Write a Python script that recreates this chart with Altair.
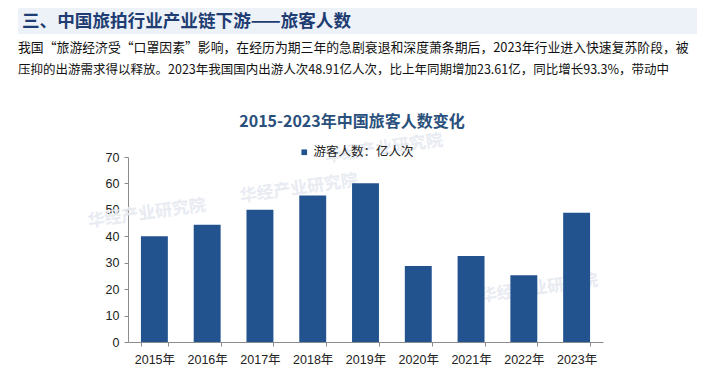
import altair as alt
import pandas as pd

years = ["2015年", "2016年", "2017年", "2018年", "2019年", "2020年", "2021年", "2022年", "2023年"]
values = [40.0, 44.4, 50.0, 55.4, 60.1, 28.8, 32.5, 25.3, 48.91]
series_name = "游客人数：亿人次"
y_ticks = [0, 10, 20, 30, 40, 50, 60, 70]

header = "三、中国旅拍行业产业链下游——旅客人数"
para1 = "我国“旅游经济受“口罩因素”影响，在经历为期三年的急剧衰退和深度萧条期后，2023年行业进入快速复苏阶段，被"
para2 = "压抑的出游需求得以释放。2023年我国国内出游人次48.91亿人次，比上年同期增加23.61亿，同比增长93.3%，带动中"
chart_title = "2015-2023年中国旅客人数变化"
watermark = "华经产业研究院"

CJK = "Noto Sans CJK SC"
LAT = "Liberation Sans, Noto Sans CJK SC"
BAR = "#22538F"

df = pd.DataFrame({"year": years, "value": values, "series": [series_name] * len(years)})

W, H = 475, 185

def txt(s, x, y, size, color, weight="normal", align="left", font=CJK, angle=0, opacity=1.0):
    return alt.Chart(pd.DataFrame({"t": [s]})).mark_text(
        align=align, baseline="middle", fontSize=size, font=font, color=color,
        fontWeight=weight, angle=angle, opacity=opacity
    ).encode(x=alt.value(x), y=alt.value(y), text="t:N")

band = alt.Chart(pd.DataFrame({"t": [header]})).mark_rect(color="#EDF2F9").encode(
    x=alt.value(-110), x2=alt.value(569), y=alt.value(-152), y2=alt.value(-123)
)

marks = []
# watermarks (faint)
for (wx, wy) in [(325 - 128, 0), (240 - 128, 40), (480 - 128, 140), (-40, 65)]:
    marks.append(txt(watermark, wx, wy, 17, "#E6EAF1", weight="bold", angle=352, opacity=0.9))

bars = alt.Chart(df).mark_bar().encode(
    x=alt.X("year:N", sort=None, title=None,
            scale=alt.Scale(paddingInner=0.49, paddingOuter=0.245),
            axis=alt.Axis(labelAngle=0, tickBand="extent", tickSize=4, labelPadding=7,
                          labelFont=LAT, labelFontSize=12.5, labelColor="#222222",
                          domainColor="#8C8C8C", tickColor="#8C8C8C")),
    y=alt.Y("value:Q", title=None,
            scale=alt.Scale(domain=[0, 70], nice=False),
            axis=alt.Axis(values=y_ticks, grid=False, tickSize=4, labelPadding=5,
                          labelFont=LAT, labelFontSize=12.5, labelColor="#222222",
                          domainColor="#8C8C8C", tickColor="#8C8C8C")),
    color=alt.Color("series:N", scale=alt.Scale(range=[BAR]),
                    legend=alt.Legend(orient="none", legendX=170, legendY=-11, title=None,
                                      symbolType="square", symbolSize=32, symbolStrokeWidth=0,
                                      labelFont=CJK, labelFontSize=12.5, labelColor="#222222",
                                      labelOffset=3, padding=0, direction="horizontal")),
)

layers = [band] + marks + [
    txt(header, -106, -135, 17.6, "#1F3D72", weight="bold"),
    txt(para1, -110, -109, 12.85, "#111111"),
    txt(para2, -110, -87, 12.5, "#111111"),
    txt(chart_title, 224, -35, 16, "#2A507C", weight="bold", align="center"),
    bars,
]

chart = alt.layer(*layers).properties(
    width=W, height=H,
    autosize=alt.AutoSizeParams(type="none"),
    padding={"left": 120, "top": 149, "right": 94, "bottom": 42},
).configure_view(stroke=None).configure_axis(domainWidth=1, tickWidth=1)

chart.save("out.html", embed_options={"renderer": "svg", "actions": False})
